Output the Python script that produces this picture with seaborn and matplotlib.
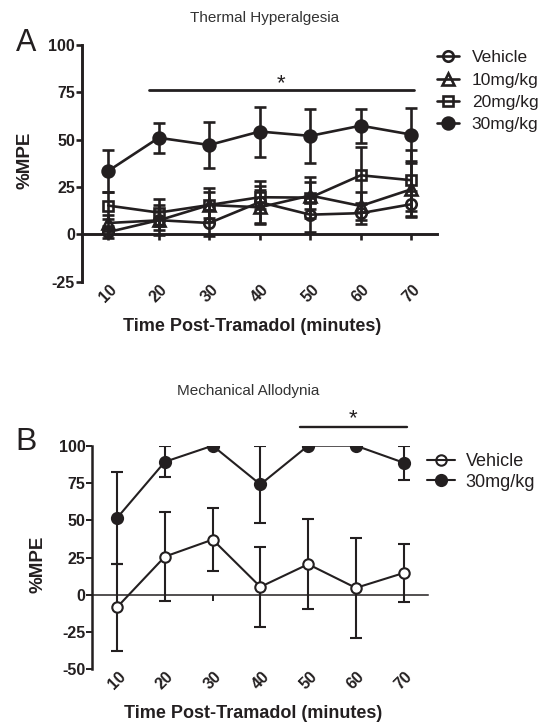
import matplotlib
matplotlib.use("Agg")
import matplotlib.pyplot as plt
from matplotlib.lines import Line2D
import seaborn as sns
import pandas as pd

# ---------------- data ----------------
times = [10, 20, 30, 40, 50, 60, 70]
time_labels = ["10", "20", "30", "40", "50", "60", "70"]

# Panel A: Thermal Hyperalgesia (%MPE mean, SEM)
vehicle_A = [1.2, 7.5, 6.0, 17.0, 10.4, 11.2, 15.9]
vehicle_A_err = [3.0, 8.0, 7.0, 11.0, 9.0, 5.6, 6.8]
mg10_A = [6.0, 7.4, 15.5, 14.3, 20.5, 15.0, 23.8]
mg10_A_err = [4.0, 5.0, 7.0, 9.0, 7.0, 7.4, 14.0]
mg20_A = [15.2, 11.5, 15.5, 19.6, 19.4, 31.2, 28.6]
mg20_A_err = [7.0, 7.0, 9.0, 6.0, 11.0, 15.0, 16.0]
mg30_A = [33.5, 51.0, 47.2, 54.3, 52.0, 57.4, 52.7]
mg30_A_err = [11.3, 8.0, 12.0, 13.2, 14.3, 9.0, 14.0]

# Panel B: Mechanical Allodynia
vehicle_B = [-8.3, 25.6, 37.0, 5.3, 20.5, 4.6, 14.6]
vehicle_B_err = [29.2, 30.0, 21.0, 27.0, 30.0, 33.7, 19.5]
mg30_B = [51.6, 89.2, 100.0, 74.0, 100.0, 100.0, 88.6]
mg30_B_err = [30.7, 10.3, 0.0, 26.0, 0.0, 0.0, 11.5]

yticks_A = [-25, 0, 25, 50, 75, 100]
yticks_B = [-50, -25, 0, 25, 50, 75, 100]

sig_A = {"x": [18.1, 70.5], "y": 76}
sig_B = {"x": [48.2, 70.8], "y": 112.6}

# ---------------- style ----------------
sns.set_theme(style="white")
plt.rcParams["font.family"] = ["Liberation Sans", "DejaVu Sans"]
K = "#231f20"

fig = plt.figure(figsize=(5.4, 7.23), dpi=100)
W, H = 540.0, 723.0


def fx(px):
    return px / W


def fy(py):
    return 1 - py / H


def setup_axes(ax, yticks, ylim, lw_left, lw_zero, tick_lw):
    ax.set_xlim(4.8, 75.1)
    ax.set_ylim(*ylim)
    for s in ["top", "right"]:
        ax.spines[s].set_visible(False)
    ax.spines["left"].set_linewidth(lw_left)
    ax.spines["left"].set_color(K)
    ax.spines["bottom"].set_position(("data", 0))
    ax.spines["bottom"].set_linewidth(lw_zero)
    ax.spines["bottom"].set_color(K)
    ax.set_yticks(yticks)
    ax.set_yticklabels([str(t) for t in yticks], fontweight="bold", fontsize=11.5, color=K)
    ax.tick_params(axis="y", direction="out", length=4, width=tick_lw, color=K, pad=1, left=True)
    ax.set_xticks(times)
    ax.tick_params(axis="x", direction="out", length=4.5, width=tick_lw, color=K, labelbottom=False, bottom=True)
    ax.grid(False)
    sec = ax.secondary_xaxis("bottom")
    sec.set_xticks(times)
    sec.set_xticklabels(time_labels, fontweight="bold", fontsize=11.5, rotation=45, ha="center", color=K)
    sec.tick_params(axis="x", length=0, pad=0)
    sec.spines["bottom"].set_visible(False)
    ax.set_xlabel("")
    ax.set_ylabel("%MPE", fontweight="bold", fontsize=13.5, color=K)


def series(ax, y, err, marker, mfc, ms, lw, label):
    df = pd.DataFrame({"t": times, "v": y})
    ax.errorbar(times, y, yerr=err, fmt="none", ecolor=K, elinewidth=lw, capsize=4, capthick=lw, zorder=2)
    sns.lineplot(data=df, x="t", y="v", ax=ax, color=K, lw=lw, marker=marker, markersize=ms,
                 markerfacecolor=mfc, markeredgecolor=K, markeredgewidth=lw, zorder=3, label=label,
                 legend=False)


# ---------------- Panel A ----------------
axA = fig.add_axes([fx(82), fy(281.7), fx(437) - fx(82), fy(45) - fy(281.7)])
axA.patch.set_alpha(0)
lwA = 1.9
series(axA, vehicle_A, vehicle_A_err, "o", "none", 7.5, lwA, "Vehicle")
series(axA, mg10_A, mg10_A_err, "^", "none", 8, lwA, "10mg/kg")
series(axA, mg20_A, mg20_A_err, "s", "none", 7.5, lwA, "20mg/kg")
series(axA, mg30_A, mg30_A_err, "o", K, 8.5, lwA, "30mg/kg")
setup_axes(axA, yticks_A, (-25, 100), 2.1, 2.1, 1.9)
axA.yaxis.set_label_coords(-0.138, 0.514)
axA.plot(sig_A["x"], [sig_A["y"]] * 2, color=K, lw=2.0, clip_on=False)
axA.text(sum(sig_A["x"]) / 2, sig_A["y"] - 2, "*", ha="center", va="bottom", fontsize=16, color=K)

handlesA = [
    Line2D([], [], color=K, lw=lwA, marker="o", ms=7.5, mfc="none", mew=lwA),
    Line2D([], [], color=K, lw=lwA, marker="^", ms=8, mfc="none", mew=lwA),
    Line2D([], [], color=K, lw=lwA, marker="s", ms=7.5, mfc="none", mew=lwA),
    Line2D([], [], color=K, lw=lwA, marker="o", ms=8.5, mfc=K, mew=lwA),
]
fig.legend(handlesA, ["Vehicle", "10mg/kg", "20mg/kg", "30mg/kg"], loc="upper left",
           bbox_to_anchor=(fx(437), fy(50)), bbox_transform=fig.transFigure, frameon=False,
           fontsize=12.5, handlelength=1.25, handletextpad=0.75, labelspacing=0.42, borderpad=0,
           borderaxespad=0, labelcolor=K)

fig.text(fx(265), fy(18), "Thermal Hyperalgesia", ha="center", va="center", fontsize=11, color="#333333")
fig.text(fx(26), fy(43), "A", ha="center", va="center", fontsize=22, color=K)
fig.text(fx(252), fy(327), "Time Post-Tramadol (minutes)", ha="center", va="center",
         fontsize=13, fontweight="bold", color=K)

# ---------------- Panel B ----------------
axB = fig.add_axes([fx(92.3), fy(669.3), fx(428) - fx(92.3), fy(445.7) - fy(669.3)])
axB.patch.set_alpha(0)
lwB = 1.5
series(axB, vehicle_B, vehicle_B_err, "o", "white", 7.5, lwB, "Vehicle")
series(axB, mg30_B, mg30_B_err, "o", K, 8, lwB, "30mg/kg")
setup_axes(axB, yticks_B, (-50, 100), 1.8, 1.1, 1.4)
axB.yaxis.set_label_coords(-0.135, 0.47)
axB.plot(sig_B["x"], [sig_B["y"]] * 2, color=K, lw=1.7, clip_on=False)
axB.text(sum(sig_B["x"]) / 2, sig_B["y"] - 1.2, "*", ha="center", va="bottom", fontsize=16, color=K)

handlesB = [
    Line2D([], [], color=K, lw=lwB, marker="o", ms=7.5, mfc="none", mew=lwB),
    Line2D([], [], color=K, lw=lwB, marker="o", ms=8, mfc=K, mew=lwB),
]
fig.legend(handlesB, ["Vehicle", "30mg/kg"], loc="upper left",
           bbox_to_anchor=(fx(427), fy(453)), bbox_transform=fig.transFigure, frameon=False,
           fontsize=13, handlelength=1.55, handletextpad=0.6, labelspacing=0.2, borderpad=0,
           borderaxespad=0, labelcolor=K)

fig.text(fx(248), fy(391), "Mechanical Allodynia", ha="center", va="center", fontsize=11, color="#333333")
fig.text(fx(26), fy(442), "B", ha="center", va="center", fontsize=23, color=K)
fig.text(fx(253), fy(713), "Time Post-Tramadol (minutes)", ha="center", va="center",
         fontsize=13, fontweight="bold", color=K)

fig.savefig("out.png", dpi=100)
